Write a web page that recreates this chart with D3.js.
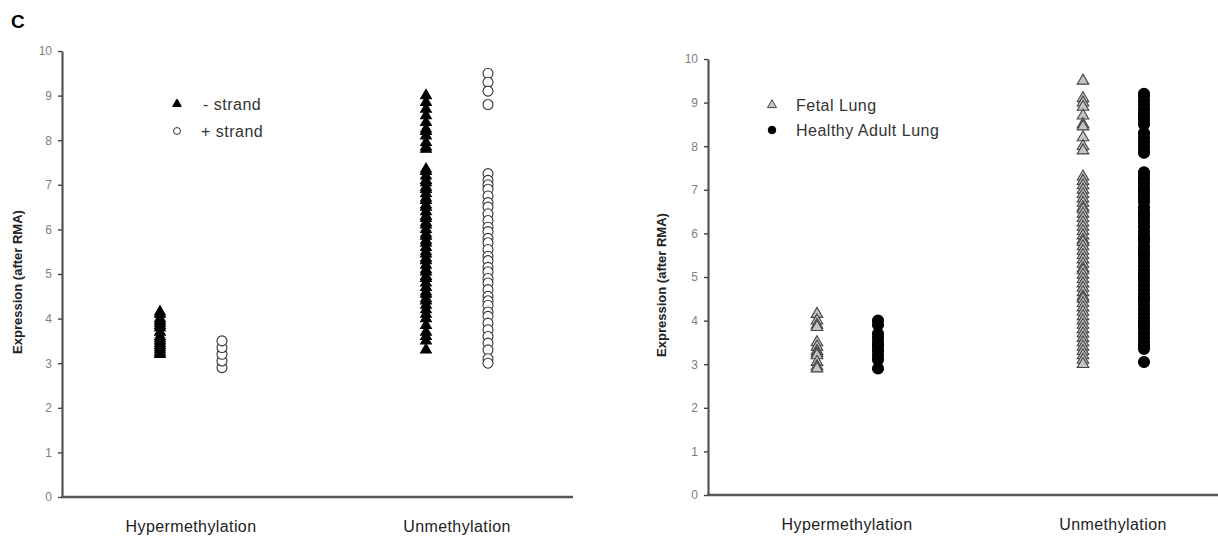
<!DOCTYPE html>
<html>
<head>
<meta charset="utf-8">
<script src="https://cdn.jsdelivr.net/npm/d3@7"></script>
<style>
  body { margin: 0; background: #fff; }
  text { font-family: "Liberation Sans", Arial, sans-serif; }
</style>
</head>
<body>
<div class="graph"></div>
<script>
const w = 1218;
const h = 540;

const categories = ["Hypermethylation", "Unmethylation"];
const yTicks = [0, 1, 2, 3, 4, 5, 6, 7, 8, 9, 10];

// panel C left: strands
const minusHyper = [3.2, 3.25, 3.3, 3.35, 3.4, 3.45, 3.5, 3.55, 3.6, 3.7, 3.8, 3.85, 3.9, 3.95, 4.0, 4.1, 4.15];
const plusHyper = [2.9, 3.05, 3.2, 3.35, 3.5];
const minusUnmeth = [9.0, 8.85, 8.7, 8.55, 8.4, 8.25, 8.2, 8.1, 7.95, 7.85, 7.8,
  7.35, 7.3, 7.2, 7.1, 7.05, 6.95, 6.9, 6.8, 6.7, 6.65, 6.55, 6.5, 6.4, 6.3, 6.25, 6.15, 6.1, 6.0,
  5.9, 5.85, 5.75, 5.7, 5.6, 5.5, 5.45, 5.35, 5.3, 5.2, 5.1, 5.05, 4.95, 4.9, 4.8, 4.7, 4.6, 4.55,
  4.45, 4.4, 4.3, 4.2, 4.1, 4.0, 3.85, 3.7, 3.6, 3.5, 3.3];
const plusUnmeth = [9.5, 9.3, 9.1, 8.8,
  7.25, 7.1, 7.0, 6.9, 6.75, 6.6, 6.5, 6.35, 6.2, 6.05, 5.95, 5.8, 5.7, 5.55, 5.4, 5.3, 5.15,
  5.05, 4.9, 4.8, 4.65, 4.5, 4.4, 4.3, 4.15, 4.05, 3.9, 3.75, 3.6, 3.45, 3.3, 3.1, 3.0];

// panel C right: tissues
const fetalHyper = [4.15, 4.0, 3.9, 3.85, 3.5, 3.4, 3.3, 3.25, 3.2, 3.05, 2.95, 2.9];
const adultHyper = [4.0, 3.9, 3.7, 3.6, 3.5, 3.45, 3.4, 3.3, 3.2, 3.1, 2.9];
const fetalUnmeth = [9.5, 9.1, 9.0, 8.9, 8.7, 8.5, 8.45, 8.2, 8.0, 7.9,
  7.3, 7.2, 7.1, 7.0, 6.9, 6.8, 6.7, 6.6, 6.55, 6.45, 6.35, 6.25, 6.15, 6.05, 5.95, 5.85, 5.8,
  5.7, 5.6, 5.5, 5.4, 5.3, 5.2, 5.15, 5.05, 4.95, 4.85, 4.75, 4.65, 4.55, 4.5, 4.4, 4.3, 4.2,
  4.1, 4.0, 3.9, 3.8, 3.7, 3.6, 3.5, 3.4, 3.3, 3.2, 3.1, 3.0];
const adultUnmeth = [9.2, 9.15, 9.05, 8.95, 8.85, 8.75, 8.65, 8.6, 8.5, 8.3, 8.2, 8.1, 8.0, 7.9, 7.85,
  7.4, 7.32, 7.25, 7.15, 7.05, 6.98, 6.9, 6.8, 6.72, 6.6, 6.5, 6.42, 6.35, 6.25, 6.15, 6.05, 5.95,
  5.88, 5.8, 5.7, 5.6, 5.52, 5.45, 5.35, 5.25, 5.15, 5.05, 4.98, 4.9, 4.8, 4.7, 4.6, 4.52, 4.45,
  4.35, 4.25, 4.15, 4.05, 3.95, 3.88, 3.8, 3.7, 3.6, 3.5, 3.42, 3.35, 3.05];

const canvas = d3.select('.graph')
  .append("svg")
  .attr("width", w)
  .attr("height", h);

canvas.append("text")
  .attr("x", 11)
  .attr("y", 28)
  .style("font-size", "19px")
  .style("font-weight", "bold")
  .text("C");

const triangle = d3.symbol().type(d3.symbolTriangle);
const circle = d3.symbol().type(d3.symbolCircle);

function drawPanel(p) {
  const g = canvas.append("g");

  const yScale = d3.scaleLinear().domain([0, 10]).range([p.y0, p.y10]);
  const xScale = d3.scalePoint().domain(categories).range(p.xRange);

  const yAxis = d3.axisLeft(yScale)
    .tickValues(yTicks)
    .tickSize(4)
    .tickSizeOuter(0)
    .tickPadding(6);

  const ya = g.append("g")
    .attr("transform", `translate(${p.axisX}, 0)`)
    .call(yAxis);
  ya.select(".domain").attr("stroke", "#555").attr("stroke-width", 2.2);
  ya.selectAll(".tick line").attr("stroke", "#444").attr("stroke-width", 1.4);
  ya.selectAll(".tick text")
    .attr("fill", "#808080")
    .style("font-size", "12px")
    .style("font-family", "'Liberation Sans', Arial, sans-serif");

  // x axis line
  g.append("line")
    .attr("x1", p.axisX - 1)
    .attr("x2", p.axisEnd)
    .attr("y1", yScale(0))
    .attr("y2", yScale(0))
    .attr("stroke", "#555")
    .attr("stroke-width", 2.6);

  g.selectAll(".cat")
    .data(categories)
    .enter().append("text")
    .attr("class", "cat")
    .attr("x", d => xScale(d))
    .attr("y", yScale(0) + 35)
    .attr("text-anchor", "middle")
    .attr("fill", "#222")
    .style("font-size", "16px")
    .style("letter-spacing", "0.4px")
    .text(d => d);

  g.append("text")
    .attr("transform", `translate(${p.titleX}, ${(p.y0 + p.y10) / 2 + 8}) rotate(-90)`)
    .attr("text-anchor", "middle")
    .attr("fill", "#222")
    .style("font-size", "13px")
    .style("font-weight", "bold")
    .text("Expression (after RMA)");

  p.series.forEach(s => {
    s.values.forEach((vals, ci) => {
      g.selectAll(null)
        .data(vals)
        .enter().append("path")
        .attr("d", s.shape.size(s.size)())
        .attr("transform", d => `translate(${xScale(categories[ci]) + s.offset}, ${yScale(d)})`)
        .attr("fill", s.fill)
        .attr("stroke", s.stroke)
        .attr("stroke-width", 1.1);
    });
  });

  // legend
  const legend = g.selectAll(".legend")
    .data(p.series)
    .enter().append("g")
    .attr("class", "legend")
    .attr("transform", (d, i) => `translate(${p.legendX}, ${p.legendY + i * p.legendStep})`);

  legend.append("path")
    .attr("d", d => d.shape.size(d.legendSize)())
    .attr("fill", d => d.fill)
    .attr("stroke", d => d.stroke)
    .attr("stroke-width", 1);

  legend.append("text")
    .attr("x", d => d.labelDx)
    .attr("y", 0)
    .attr("dy", ".35em")
    .attr("fill", "#333")
    .style("font-size", "16px")
    .style("letter-spacing", "0.5px")
    .text(d => d.name);
}

drawPanel({
  axisX: 62, axisEnd: 573, y0: 497, y10: 51, titleX: 22,
  xRange: [191, 457],
  legendX: 177, legendY: 104, legendStep: 27,
  series: [
    {name: "- strand", shape: triangle, size: 50, legendSize: 32, fill: "#000", stroke: "#000",
     offset: -31, labelDx: 26, values: [minusHyper, minusUnmeth]},
    {name: "+ strand", shape: circle, size: 78, legendSize: 38, fill: "#fff", stroke: "#333",
     offset: 31, labelDx: 24, values: [plusHyper, plusUnmeth]}
  ]
});

drawPanel({
  axisX: 708, axisEnd: 1218, y0: 495, y10: 59, titleX: 666,
  xRange: [847, 1113],
  legendX: 772, legendY: 105, legendStep: 25,
  series: [
    {name: "Fetal Lung", shape: triangle, size: 58, legendSize: 36, fill: "#c4c4c4", stroke: "#444",
     offset: -30, labelDx: 24, values: [fetalHyper, fetalUnmeth]},
    {name: "Healthy Adult Lung", shape: circle, size: 95, legendSize: 45, fill: "#000", stroke: "#000",
     offset: 31, labelDx: 24, values: [adultHyper, adultUnmeth]}
  ]
});
</script>
</body>
</html>
